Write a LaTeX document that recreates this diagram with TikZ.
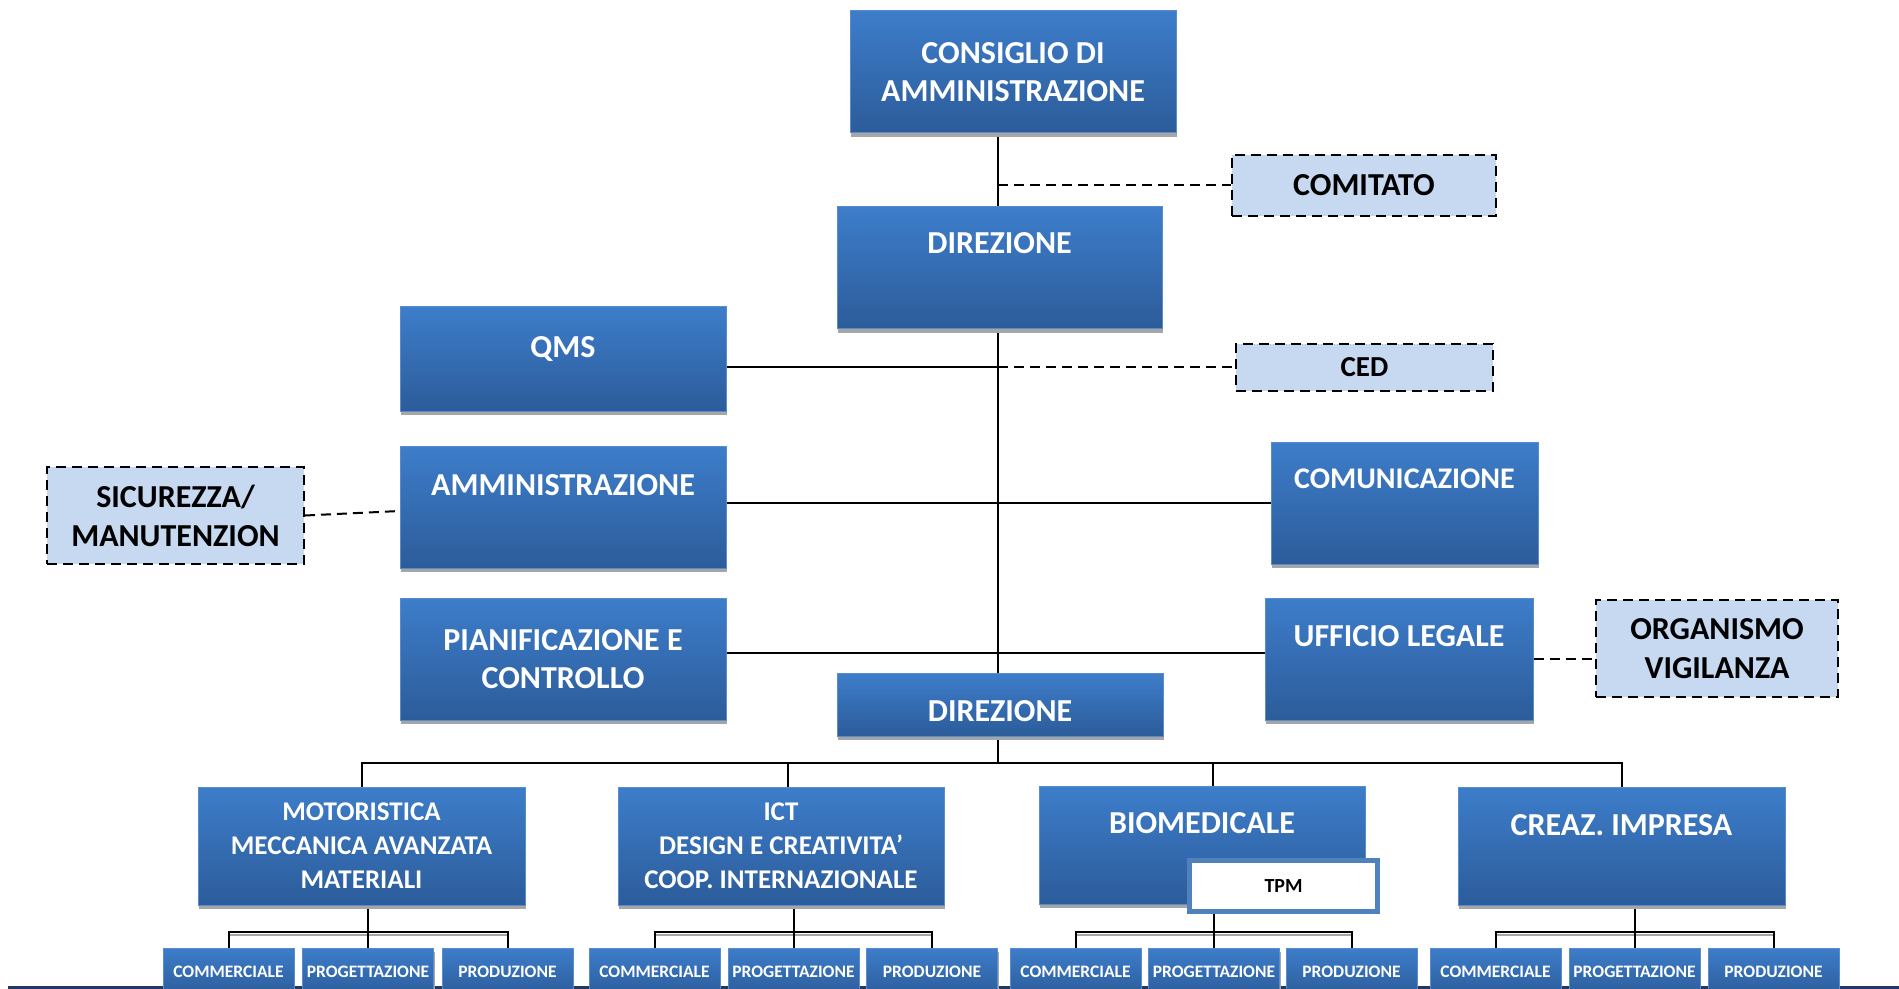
\documentclass[tikz,border=0pt]{standalone}
\usepackage{fontspec}
\setmainfont{Carlito}
\usetikzlibrary{shadows}
\definecolor{btop}{RGB}{61,125,202}
\definecolor{bbot}{RGB}{44,92,154}
\definecolor{bborder}{RGB}{90,140,205}
\definecolor{shgray}{RGB}{166,166,166}
\definecolor{dfill}{RGB}{198,217,241}
\definecolor{navyline}{RGB}{31,56,100}
\definecolor{tpmborder}{RGB}{79,129,189}
\pgfdeclarelayer{bg}
\pgfsetlayers{bg,main}
\tikzset{
  bluebox/.style={draw=bborder, line width=0.5pt, top color=btop, bottom color=bbot,
    text=white, font=\bfseries\fontsize{16}{19}\selectfont, align=center, inner sep=2pt,
    general shadow={fill=shgray, shadow xshift=0.5pt, shadow yshift=-2pt}},
  dashbox/.style={draw=black, line width=1pt, dash pattern=on 5pt off 3pt, fill=dfill,
    font=\bfseries\fontsize{16}{19.5}\selectfont, align=center, inner sep=2pt},
  subbox/.style={bluebox, font=\bfseries\fontsize{8.75}{10}\selectfont,
    minimum width=65.5pt, minimum height=24pt},
  midbox/.style={bluebox, font=\bfseries\fontsize{13.5}{17}\selectfont},
  boxsz/.style 2 args={minimum width=#1, minimum height=#2},
  txtup/.style={text depth=#1},
  conn/.style={line width=1pt, black},
  dconn/.style={line width=1pt, black, dash pattern=on 5pt off 3pt},
  busshadow/.style={line width=1pt, shgray},
}
\begin{document}
\begin{tikzpicture}[x=0.5pt, y=-0.5pt]
\useasboundingbox (0,0) rectangle (1899,989);

% main boxes
\node[bluebox, boxsz={163pt}{61pt}] (cda) at (1013,72) {CONSIGLIO DI\\AMMINISTRAZIONE};
\node[bluebox, boxsz={162.5pt}{61pt}, txtup=25pt] (dir1) at (999.5,268) {DIREZIONE};
\node[dashbox, boxsz={132pt}{30.5pt}] (cmt) at (1364,185.5) {COMITATO};
\node[bluebox, boxsz={163pt}{52pt}, txtup=12pt] (qms) at (563,359) {QMS};
\node[dashbox, boxsz={128.5pt}{23.5pt}, font=\bfseries\fontsize{14.5}{19}\selectfont] (ced) at (1364.5,367.5) {CED};
\node[bluebox, boxsz={163pt}{61pt}, txtup=22pt] (amm) at (563,507) {AMMINISTRAZIONE};
\node[dashbox, boxsz={128.5pt}{48.5pt}] (sic) at (175.5,515.5) {SICUREZZA/\\MANUTENZION};
\node[bluebox, boxsz={133.5pt}{61pt}, txtup=24pt, font=\bfseries\fontsize{15}{19}\selectfont] (comu) at (1404.5,503) {COMUNICAZIONE};
\node[bluebox, boxsz={163pt}{61pt}] (pian) at (563,659) {PIANIFICAZIONE E\\CONTROLLO};
\node[bluebox, boxsz={134pt}{61pt}, txtup=23pt] (uff) at (1399,659) {UFFICIO LEGALE};
\node[dashbox, boxsz={121pt}{48.5pt}] (org) at (1717,648.5) {ORGANISMO\\VIGILANZA};
\node[bluebox, boxsz={163pt}{31.5pt}, text height=17pt] (dir2) at (1000,704.5) {DIREZIONE};

\node[midbox, boxsz={163.5pt}{59pt}] (mot) at (361.5,846) {MOTORISTICA\\MECCANICA AVANZATA\\MATERIALI};
\node[midbox, boxsz={163pt}{59pt}] (ict) at (781,846) {ICT\\DESIGN E CREATIVITA’\\COOP. INTERNAZIONALE};
\node[bluebox, boxsz={163pt}{59pt}, txtup=22pt] (bio) at (1202,845) {BIOMEDICALE};
\node[bluebox, boxsz={163.5pt}{59pt}, txtup=21pt] (cre) at (1621.5,846) {CREAZ. IMPRESA};
\node[draw=tpmborder, line width=2.5pt, fill=white, boxsz={94pt}{25.5pt},
  font=\bfseries\fontsize{10}{12}\selectfont] (tpm) at (1283.5,886) {TPM};

% sub boxes
\foreach \n/\x/\t in {m1/228.5/COMMERCIALE, m2/368/PROGETTAZIONE, m3/507.5/PRODUZIONE,
                       i1/654.5/COMMERCIALE, i2/793.5/PROGETTAZIONE, i3/932/PRODUZIONE,
                       b1/1075.5/COMMERCIALE, b2/1214/PROGETTAZIONE, b3/1351.5/PRODUZIONE,
                       c1/1495.5/COMMERCIALE, c2/1634.5/PROGETTAZIONE, c3/1773.5/PRODUZIONE}
  \node[subbox] (\n) at (\x,972) {\t};

\coordinate (trk) at (998,0);
\coordinate (busy) at (0,763);

\begin{pgfonlayer}{bg}
  % bottom rule
  \draw[navyline, line width=1.5pt] (8,987) -- (1899,987);
  % trunk
  \draw[conn] (cda.south -| trk) -- (trk |- busy);
  \draw[dconn] (cmt.west -| trk) -- (cmt.west);
  \draw[conn] (qms.east |- ced.west) -- (trk |- ced.west);
  \draw[dconn] (trk |- ced.west) -- (ced.west);
  \draw[conn] (amm.east |- comu.west) -- (comu.west);
  \draw[dconn] (sic.east) -- ([yshift=-2pt]amm.west);
  \draw[conn] ([yshift=3pt]pian.east) -- ([yshift=3pt]uff.west);
  \draw[dconn] (uff.east) -- (uff.east -| org.west);
  % main bus
  \draw[conn] (mot.north) -- (mot.north |- busy) -- (cre.north |- busy) -- (cre.north);
  \draw[conn] ([xshift=3.5pt]ict.north |- busy) -- ([xshift=3.5pt]ict.north);
  \draw[conn] ([xshift=5.5pt]bio.north |- busy) -- ([xshift=5.5pt]bio.north);
  % sub buses
  \foreach \p/\a/\b/\c in {mot/m1/m2/m3, ict/i1/i2/i3, tpm/b1/b2/b3, cre/c1/c2/c3} {
    \draw[busshadow] ([yshift=6.5pt]\a.north) -- ([yshift=6.5pt]\c.north);
    \draw[conn] (\p.south -| \b.north) -- (\b.north);
    \draw[conn] (\a.north) -- ++(0,-16) -| (\c.north);
  }
\end{pgfonlayer}
\end{tikzpicture}
\end{document}
